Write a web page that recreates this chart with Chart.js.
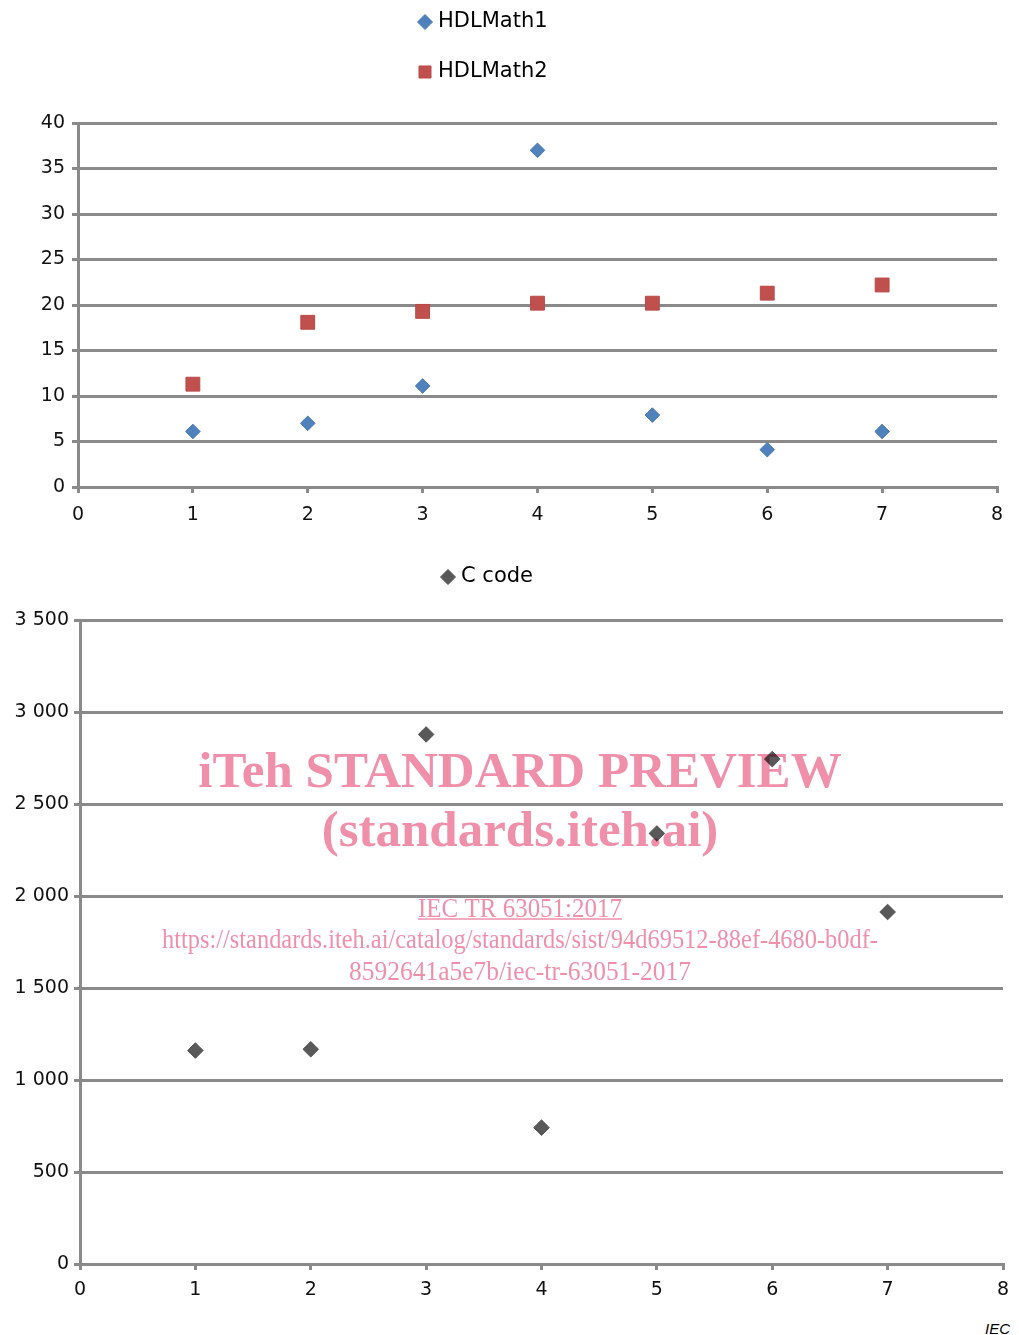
<!doctype html>
<html>

<head>
    <title>HDLMath / C code scatter</title>
    <script src="https://cdn.jsdelivr.net/npm/chart.js@4.4.0/dist/chart.umd.min.js"></script>
    <style>
        body { margin: 0; background: #fff; width: 1019px; height: 1335px; position: relative; overflow: hidden; }
        #top-holder { position: absolute; left: 0; top: 0; width: 1019px; height: 527px; }
        #bottom-holder { position: absolute; left: 0; top: 527px; width: 1019px; height: 777px; }
        #iec { position: absolute; right: 9px; top: 1321px; font: italic 15px "Liberation Sans", Arial, sans-serif; line-height: 15px; color: #000; }
    </style>
</head>

<body>
    <div id="top-holder"><canvas id="top-chart" width="1019" height="527"></canvas></div>
    <div id="bottom-holder"><canvas id="bottom-chart" width="1019" height="777"></canvas></div>
    <div id="iec">IEC</div>
    <script>
    // values
    var xValues = [1, 2, 3, 4, 5, 6, 7];
    var hdlMath1 = [6.1, 7.0, 11.1, 37.0, 7.9, 4.1, 6.1];
    var hdlMath2 = [11.3, 18.1, 19.3, 20.2, 20.2, 21.3, 22.2];
    var cCode = [1160, 1167, 2878, 741, 2340, 2744, 1913];
    var seriesNames = ['HDLMath1', 'HDLMath2', 'C code'];

    var xRange = [0, 8];
    var topYRange = [0, 40, 5];
    var bottomYRange = [0, 3500, 500];

    var gridGrey = '#8a8a8a';
    var tickFont = { family: 'DejaVu Sans', size: 19 };

    var toPoints = function(ys) {
        return xValues.map(function(x, i) { return { x: x, y: ys[i] }; });
    };

    var spaced = function(v) {
        return String(v).replace(/\B(?=(\d{3})+(?!\d))/g, ' ');
    };

    // legend drawn one entry per line, like the original
    var stackedLegend = {
        id: 'stackedLegend',
        afterDraw: function(chart, args, opts) {
            var ctx = chart.ctx;
            ctx.save();
            ctx.font = opts.font;
            ctx.textBaseline = 'middle';
            ctx.textAlign = 'left';
            chart.data.datasets.forEach(function(ds, i) {
                var y = opts.y + i * opts.gap;
                ctx.fillStyle = ds.backgroundColor;
                ctx.strokeStyle = ds.borderColor;
                ctx.lineWidth = 1;
                Chart.helpers.drawPoint(ctx, {
                    pointStyle: ds.pointStyle,
                    radius: opts.radius[ds.pointStyle],
                    rotation: 0,
                    borderWidth: 1
                }, opts.x, y);
                ctx.fillStyle = '#000';
                ctx.fillText(ds.label, opts.x + 13, y);
            });
            ctx.restore();
        }
    };

    var watermark = {
        id: 'watermark',
        afterDatasetsDraw: function(chart, args, opts) {
            var ctx = chart.ctx;
            ctx.save();
            ctx.globalCompositeOperation = 'multiply';
            ctx.fillStyle = opts.color;
            ctx.strokeStyle = opts.color;
            ctx.textAlign = 'center';
            ctx.textBaseline = 'alphabetic';
            opts.lines.forEach(function(l) {
                ctx.font = l.font;
                ctx.fillText(l.text, opts.x, l.y, l.width);
                if (l.underline) {
                    ctx.lineWidth = 1.5;
                    ctx.beginPath();
                    ctx.moveTo(opts.x - l.width / 2, l.y + 2);
                    ctx.lineTo(opts.x + l.width / 2, l.y + 2);
                    ctx.stroke();
                }
            });
            ctx.restore();
        }
    };

    var axes = function(yRange, yWidth, yPad, xPad, yCallback) {
        return {
            x: {
                type: 'linear',
                min: xRange[0],
                max: xRange[1],
                afterFit: function(scale) { scale.height = 40; },
                ticks: { stepSize: 1, color: '#111', font: tickFont, padding: xPad },
                grid: { drawOnChartArea: false, color: gridGrey, lineWidth: 3, tickLength: 6 },
                border: { color: gridGrey, width: 3 }
            },
            y: {
                min: yRange[0],
                max: yRange[1],
                afterFit: function(scale) { scale.width = yWidth; },
                ticks: { stepSize: yRange[2], color: '#111', font: tickFont, padding: yPad, callback: yCallback },
                grid: { color: gridGrey, lineWidth: 3, tickLength: 6 },
                border: { color: gridGrey, width: 3 }
            }
        };
    };

    var topConfig = {
        type: 'scatter',
        data: {
            datasets: [{
                label: seriesNames[0],
                data: toPoints(hdlMath1),
                pointStyle: 'rectRot',
                pointRadius: 7.3,
                backgroundColor: '#4f81bd',
                borderColor: '#4a7ab5',
                borderWidth: 1
            }, {
                label: seriesNames[1],
                data: toPoints(hdlMath2),
                pointStyle: 'rect',
                pointRadius: 9.8,
                backgroundColor: '#c0504d',
                borderColor: '#b94a47',
                borderWidth: 1
            }]
        },
        options: {
            responsive: false,
            animation: false,
            layout: { padding: { top: 123, right: 22, left: 0, bottom: 0 } },
            plugins: {
                legend: { display: false },
                tooltip: { enabled: false },
                stackedLegend: { x: 425, y: 22, gap: 50, font: '21px "DejaVu Sans"', radius: { rectRot: 7.5, rect: 8.5 } }
            },
            scales: axes(topYRange, 78, 7, 11)
        },
        plugins: [stackedLegend]
    };

    var bottomConfig = {
        type: 'scatter',
        data: {
            datasets: [{
                label: seriesNames[2],
                data: toPoints(cCode),
                pointStyle: 'rectRot',
                pointRadius: 7.8,
                backgroundColor: '#595959',
                borderColor: '#555555',
                borderWidth: 1
            }]
        },
        options: {
            responsive: false,
            animation: false,
            layout: { padding: { top: 93, right: 16, left: 0, bottom: 0 } },
            plugins: {
                legend: { display: false },
                tooltip: { enabled: false },
                stackedLegend: { x: 448, y: 50, gap: 50, font: '21px "DejaVu Sans"', radius: { rectRot: 7.5 } },
                watermark: {
                    x: 520,
                    color: 'rgb(239,143,170)',
                    lines: [
                        { text: 'iTeh STANDARD PREVIEW', font: 'bold 51px "Liberation Serif"', y: 260, width: 649 },
                        { text: '(standards.iteh.ai)', font: 'bold 51px "Liberation Serif"', y: 319, width: 400 },
                        { text: 'IEC TR 63051:2017', font: '27px "Liberation Serif"', y: 390, width: 204, underline: true },
                        { text: 'https://standards.iteh.ai/catalog/standards/sist/94d69512-88ef-4680-b0df-', font: '27px "Liberation Serif"', y: 421, width: 716 },
                        { text: '8592641a5e7b/iec-tr-63051-2017', font: '27px "Liberation Serif"', y: 453, width: 342 }
                    ]
                }
            },
            scales: axes(bottomYRange, 80, 5, 9, function(v) { return spaced(v); })
        },
        plugins: [stackedLegend, watermark]
    };

    window.onload = function() {
        window.topChart = new Chart(document.getElementById('top-chart').getContext('2d'), topConfig);
        window.bottomChart = new Chart(document.getElementById('bottom-chart').getContext('2d'), bottomConfig);
    };
    </script>
</body>

</html>
